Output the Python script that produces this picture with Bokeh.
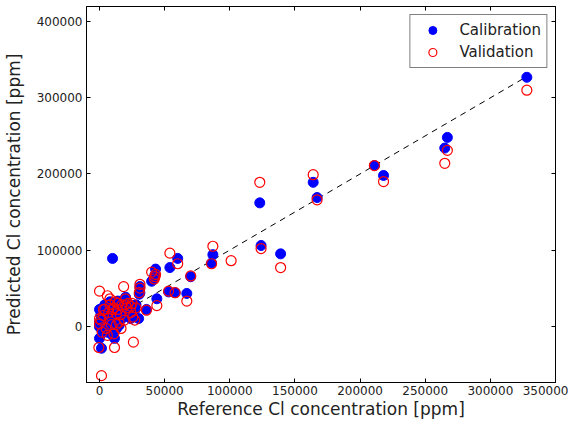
from bokeh.plotting import figure
from bokeh.models import (Range1d, LinearAxis, FixedTicker, BasicTickFormatter,
                          Legend, LegendItem)
from bokeh.embed import file_html
from bokeh.resources import INLINE

# Calibration (blue filled)
cal_x = [328000, 267000, 265000, 218000, 211000, 167000, 164000, 139000, 124000, 123000,
         87000, 86000, 70000, 67000, 60000, 58000, 54000, 53000, 44000, 43000,
         42500, 42000, 40000, 36000, 31000, 31000, 30500, 30000, 27000, 24000,
         20000, 18500, 16000, 15000, 14000, 13000, 11500, 10000, 10000, 6000,
         4000, 1500, 0, 0, 0, 0, 1000, 3000, 5000, 7000,
         8000, 9000, 11000, 12000, 14000, 17000, 19000, 21000, 22000, 25000,
         2000, 6000, 13000, 8000, 20000, 28000, 3000, 24000]
cal_y = [327000, 248000, 234000, 198000, 211000, 169000, 189000, 95000, 106000, 162000,
         94000, 83000, 65000, 43000, 89000, 44000, 77000, 45000, 36000, 75000,
         67000, 64000, 59000, 22000, 52000, 44000, 42000, 10000, 21000, 10000,
         38000, 31000, 8000, 1000, 33000, -3000, -16000, -12000, 89000, 20000,
         28000, -29000, -16000, 22000, -1000, 5000, 15000, 10000, 2000, 14000,
         25000, 6000, 20000, 28000, 18000, 24000, 12000, 20000, 28000, 27000,
         -5000, -8000, 12000, 32000, 32000, 28000, 18000, 22000]

# Validation (red hollow)
val_x = [328000, 267000, 265000, 218000, 211000, 167000, 164000, 139000, 124000, 123000,
         101000, 87000, 86000, 70000, 67000, 60000, 58000, 54000, 53000, 44000,
         40000, 42500, 43000, 42000, 36000, 31000, 31000, 30500, 27000, 26000,
         24000, 25500, 20000, 18500, 16000, 15000, 14000, 13000, 11500, 11000,
         10000, 6000, 4000, 1500, -500, 0, 0, 0, 1000, 3000,
         5000, 7000, 8000, 9000, 11000, 12000, 14000, 17000, 19000, 21000,
         22000, 25000, 2000, 6000, 13000, 8000, 20000, 28000, 3000, 24000, 16500]
val_y = [310000, 231000, 214000, 190000, 211000, 166000, 199000, 77000, 102000, 189000,
         86000, 105000, 82000, 66000, 33000, 82000, 44000, 96000, 46000, 27000,
         71000, 65000, 68000, 62000, 21000, 55000, 50000, 44000, 8000, -21000,
         18000, 12000, 36000, 52000, 15000, 5000, 30000, 2000, -28000, -10000,
         22000, 40000, 22000, -65000, -28000, 46000, 3000, 10000, 8000, 14000,
         -3000, 18000, 28000, 2000, 24000, 32000, 22000, 28000, 8000, 24000,
         30000, 30000, -8000, -12000, 16000, 36000, 28000, 24000, 22000, 26000, -3000]

line_x = [0, 328000]
line_y = [0, 328000]

x_ticks = [0, 50000, 100000, 150000, 200000, 250000, 300000, 350000]
y_ticks = [0, 100000, 200000, 300000, 400000]

FONT = "DejaVu Sans"

p = figure(width=568, height=421, output_backend="svg", toolbar_location=None,
           x_range=Range1d(-10000, 350000), y_range=Range1d(-74000, 420000),
           min_border_left=80, min_border_right=13, min_border_top=6, min_border_bottom=0)
p.xgrid.visible = False
p.ygrid.visible = False
p.outline_line_color = "black"
p.outline_line_width = 1

for ax, ticks in ((p.xaxis[0], x_ticks), (p.yaxis[0], y_ticks)):
    ax.ticker = FixedTicker(ticks=ticks)
    ax.formatter = BasicTickFormatter(use_scientific=False)
    ax.major_tick_in = 4
    ax.major_tick_out = 0
    ax.minor_tick_in = 0
    ax.minor_tick_out = 0
    ax.major_label_text_font = FONT
    ax.major_label_text_font_size = "12px"
    ax.major_label_text_color = "#222222"
    ax.axis_label_text_font = FONT
    ax.axis_label_text_font_size = "17px"
    ax.axis_label_text_font_style = "normal"
    ax.axis_label_text_color = "#222222"
    ax.axis_line_color = "black"
    ax.major_tick_line_color = "black"

p.xaxis[0].axis_label = "Reference Cl concentration [ppm]"
p.yaxis[0].axis_label = "Predicted Cl concentration [ppm]"
p.xaxis[0].major_label_standoff = 3
p.xaxis[0].axis_label_standoff = 1
p.yaxis[0].major_label_standoff = 4
p.yaxis[0].axis_label_standoff = 10

for loc, ticks in (("above", x_ticks), ("right", y_ticks)):
    ax = LinearAxis(ticker=FixedTicker(ticks=ticks),
                    major_label_overrides={t: "" for t in ticks},
                    major_label_standoff=0,
                    major_tick_in=4, major_tick_out=0, minor_tick_in=0, minor_tick_out=0)
    p.add_layout(ax, loc)

p.line(line_x, line_y, line_color="black", line_dash="6 5", line_width=1)

r_cal = p.scatter(cal_x, cal_y, size=10, marker="circle", fill_color="blue", line_color="blue")
r_val = p.scatter(val_x, val_y, size=10, marker="circle", fill_color=None, line_color="red",
                  line_width=1.2)

legend = Legend(items=[LegendItem(label="Calibration", renderers=[r_cal]),
                       LegendItem(label="Validation", renderers=[r_val])],
                location="top_right")
legend.label_text_font = FONT
legend.label_text_font_size = "15px"
legend.label_text_color = "#222222"
legend.border_line_color = "black"
legend.border_line_width = 1
legend.margin = 8
legend.padding = 5
legend.spacing = 2
legend.glyph_width = 34
legend.label_standoff = 10
p.add_layout(legend, "center")

open("out.html", "w").write(file_html(p, INLINE))
